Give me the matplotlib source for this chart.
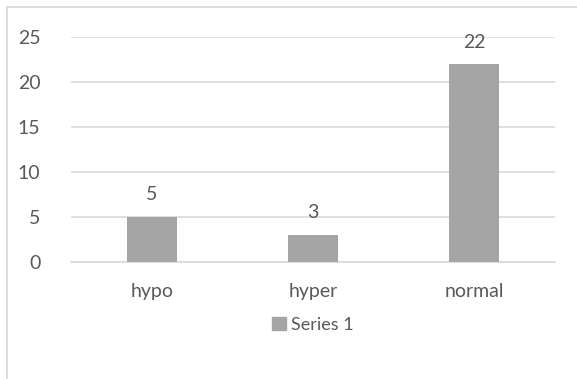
import matplotlib.pyplot as plt
from matplotlib.patches import Rectangle
from matplotlib.lines import Line2D

categories = ['hypo', 'hyper', 'normal']
values = [5, 3, 22]
series_name = 'Series 1'

txt = '#595959'
grid = '#D9D9D9'
bar_col = '#A5A5A5'

plt.rcParams['font.family'] = ['Lato', 'DejaVu Sans']

fig = plt.figure(figsize=(5.77, 3.79), dpi=100)
# chart frame (left and top edges visible)
fig.add_artist(Line2D([7/577, 7/577], [0, 1 - 7/379], color=grid, lw=1.3, transform=fig.transFigure))
fig.add_artist(Line2D([7/577, 1], [1 - 7/379, 1 - 7/379], color=grid, lw=1.3, transform=fig.transFigure))

ax = fig.add_axes([71/577, 1 - 262/379, 484/577, 225/379])
x = range(len(categories))
bars = ax.bar(x, values, width=0.31, color=bar_col, zorder=3)
for b, v in zip(bars, values):
    ax.text(b.get_x() + b.get_width()/2, v + 1.5, str(v), ha='center', va='bottom',
            fontsize=14, color=txt, zorder=4)

ax.set_xlim(-0.5, 2.5)
ax.set_ylim(0, 25)
ax.set_yticks(range(0, 26, 5))
ax.set_xticks(list(x))
ax.set_xticklabels(categories)
ax.grid(axis='y', color=grid, lw=1.2, zorder=0)
for s in ['top', 'right', 'left']:
    ax.spines[s].set_visible(False)
ax.spines['bottom'].set_color(grid)
ax.spines['bottom'].set_linewidth(1.2)
ax.tick_params(length=0, labelsize=14, labelcolor=txt)
ax.tick_params(axis='y', pad=22)
ax.tick_params(axis='x', pad=15)

leg = ax.legend([Rectangle((0, 0), 1, 1, color=bar_col)], [series_name],
                loc='center', bbox_to_anchor=(0.5, -0.28), frameon=False,
                fontsize=13, handlelength=0.75, handleheight=0.75, handletextpad=0.3)
for t in leg.get_texts():
    t.set_color(txt)

plt.savefig('out.png', dpi=100)
